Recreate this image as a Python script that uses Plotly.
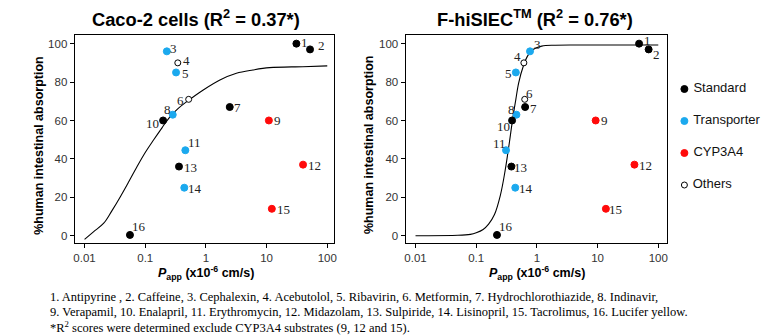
import math
import plotly.graph_objects as go

# ---------------- data ----------------
compound_ids = ["1", "2", "3", "4", "5", "6", "7", "8", "9", "10", "11", "12", "13", "14", "15", "16"]
groups = ["Standard", "Standard", "Transporter", "Others", "Transporter", "Others", "Standard",
          "Transporter", "CYP3A4", "Standard", "Transporter", "CYP3A4", "Standard", "Transporter",
          "CYP3A4", "Standard"]
hia = [100, 97, 96, 90, 85, 71, 67, 63, 60, 60, 44.5, 37, 36, 25, 14, 0.4]
caco_papp = [31, 52, 0.227, 0.344, 0.322, 0.52, 2.47, 0.284, 10.9, 0.197, 0.458, 39.9, 0.36, 0.44, 12.2, 0.056]
hisiec_papp = [48.3, 69.4, 0.77, 0.61, 0.45, 0.63, 0.64, 0.46, 9.3, 0.39, 0.31, 40.5, 0.38, 0.44, 13.7, 0.22]

caco_curve_x = [0.01, 0.014, 0.0207, 0.028, 0.0389, 0.054, 0.0731, 0.1, 0.137, 0.19, 0.257, 0.35, 0.483,
                0.904, 1.70, 3.18, 5.96, 11.2, 39.4, 100]
caco_curve_y = [-1.9, 2.0, 6.5, 12.8, 20.3, 28.3, 35.9, 43.3, 49.8, 56.3, 62.0, 66.3, 69.8,
                75.9, 81.1, 84.6, 86.3, 87.5, 88.0, 88.4]
hisiec_curve_x = [0.01, 0.05, 0.08, 0.1, 0.13, 0.16, 0.2, 0.25, 0.3, 0.35, 0.4, 0.45, 0.5, 0.6, 0.7, 0.85, 1.2, 2, 5, 100]
hisiec_curve_y = [0, 0.2, 0.7, 1.5, 3.2, 6, 11, 21, 34, 48, 61, 71, 79.5, 88.5, 93.5, 96.8, 98.7, 99.2, 99.3, 99.3]

legend_labels = ["Standard", "Transporter", "CYP3A4", "Others"]
x_tick_vals = [0.01, 0.1, 1, 10, 100]
x_tick_text = ["0.01", "0.1", "1", "10", "100"]
y_tick_vals = [0, 20, 40, 60, 80, 100]

caption_lines = [
    "1. Antipyrine , 2. Caffeine, 3. Cephalexin, 4. Acebutolol, 5. Ribavirin, 6. Metformin, 7. Hydrochlorothiazide, 8. Indinavir,",
    "9. Verapamil, 10. Enalapril, 11. Erythromycin, 12. Midazolam, 13. Sulpiride, 14. Lisinopril, 15. Tacrolimus, 16. Lucifer yellow.",
    "*R<sup>2</sup> scores were determined exclude CYP3A4 substrates (9, 12 and 15).",
]

# ---------------- styles ----------------
W, H = 763, 335
fill_colors = {"Standard": "#000000", "Transporter": "#1BA9EE", "CYP3A4": "#FF0A0A", "Others": "#FFFFFF"}
line_colors = {"Standard": "#000000", "Transporter": "#1BA9EE", "CYP3A4": "#FF0A0A", "Others": "#000000"}
marker_size = {"Standard": 7, "Transporter": 7, "CYP3A4": 7, "Others": 6}

# label offsets (px) relative to point: (dx right, dy up)
caco_label_off = [(8, 1), (11, 4), (7, 3), (9, 2), (9, -1), (-8, -1), (8, 0), (-5, 5), (9, 0), (-11, -3),
                  (9, 8), (11, -1), (12, -1), (11, -1), (12, -1), (9, 8)]
hisiec_label_off = [(8, 3), (8, -5), (7, 7), (-6, 6), (-7, -1), (5, 6), (8, -1), (-5, 5), (9, 0), (-9, -6),
                    (-7, 7), (11, -1), (9, -1), (11, -1), (10, -1), (9, 8)]


def px_x(p):
    return p / W


def px_y(p):
    return 1 - p / H


fig = go.Figure()

panels = [
    ("x", "y", caco_papp, caco_curve_x, caco_curve_y, caco_label_off),
    ("x2", "y2", hisiec_papp, hisiec_curve_x, hisiec_curve_y, hisiec_label_off),
]

annotations = []
for xa, ya, papp, cx, cy, offs in panels:
    fig.add_trace(go.Scatter(x=cx, y=cy, mode="lines", line=dict(color="black", width=1.1, shape="spline", smoothing=1.0),
                             xaxis=xa, yaxis=ya, showlegend=False, hoverinfo="skip"))
    fig.add_trace(go.Scatter(
        x=papp, y=hia, mode="markers", xaxis=xa, yaxis=ya, showlegend=False,
        marker=dict(size=[marker_size[g] for g in groups], color=[fill_colors[g] for g in groups], opacity=1,
                    line=dict(color=[line_colors[g] for g in groups], width=1)),
        cliponaxis=False))
    for cid, px, py, (dx, dy) in zip(compound_ids, papp, hia, offs):
        annotations.append(dict(x=math.log10(px), y=py, xref=xa, yref=ya, text=cid, showarrow=False,
                                xanchor="center", yanchor="middle", xshift=dx, yshift=dy,
                                font=dict(family="Liberation Serif", size=13, color="#222222")))

# legend drawn on a hidden categorical axis
fig.add_trace(go.Scatter(
    x=[0] * len(legend_labels), y=legend_labels, mode="markers+text", xaxis="x3", yaxis="y3",
    text=[" " + s for s in legend_labels], textposition="middle right",
    textfont=dict(family="Liberation Sans", size=13, color="#111111"),
    marker=dict(size=[marker_size[g] for g in legend_labels], color=[fill_colors[g] for g in legend_labels],
                opacity=1, line=dict(color=[line_colors[g] for g in legend_labels], width=1)),
    showlegend=False, cliponaxis=False, hoverinfo="skip"))

axis_common = dict(showline=True, linecolor="black", linewidth=1, mirror=True, ticks="outside",
                   ticklen=4, tickcolor="black", showgrid=False, zeroline=False,
                   tickfont=dict(family="Liberation Sans", size=11.5, color="#333333"))

fig.update_layout(
    width=W, height=H, margin=dict(l=0, r=0, t=0, b=0), plot_bgcolor="white", paper_bgcolor="white",
    xaxis=dict(axis_common, type="log", domain=[px_x(74), px_x(335)], range=[-2.164, 2.115],
               tickvals=x_tick_vals, ticktext=x_tick_text, anchor="y"),
    yaxis=dict(axis_common, domain=[px_y(243), px_y(35)], range=[-3.8, 104.5], tickvals=y_tick_vals, anchor="x"),
    xaxis2=dict(axis_common, type="log", domain=[px_x(406.7), px_x(670)], range=[-2.164, 2.152],
                tickvals=x_tick_vals, ticktext=x_tick_text, anchor="y2"),
    yaxis2=dict(axis_common, domain=[px_y(243), px_y(35)], range=[-3.8, 104.5], tickvals=y_tick_vals, anchor="x2"),
    xaxis3=dict(domain=[px_x(677), px_x(697)], range=[-1, 1], visible=False, anchor="y3"),
    yaxis3=dict(domain=[px_y(201), px_y(73)], type="category", categoryarray=legend_labels,
                range=[3.5, -0.5], visible=False, anchor="x3"),
)

title_font = dict(family="Liberation Sans", size=18.3, color="black")
axis_title_font = dict(family="Liberation Sans", size=12.5, color="black")
annotations += [
    dict(x=px_x(196), y=px_y(18), xref="paper", yref="paper", text="<b>Caco-2 cells (R<sup>2</sup> = 0.37*)</b>",
         showarrow=False, xanchor="center", yanchor="middle", font=title_font),
    dict(x=px_x(537), y=px_y(18), xref="paper", yref="paper", text="<b>F-hiSIEC<sup>TM</sup> (R<sup>2</sup> = 0.76*)</b>",
         showarrow=False, xanchor="center", yanchor="middle", font=title_font),
    dict(x=px_x(38), y=px_y(145), xref="paper", yref="paper", text="<b>%human intestinal absorption</b>",
         textangle=-90, showarrow=False, xanchor="center", yanchor="middle", font=axis_title_font),
    dict(x=px_x(370), y=px_y(145), xref="paper", yref="paper", text="<b>%human intestinal absorption</b>",
         textangle=-90, showarrow=False, xanchor="center", yanchor="middle", font=axis_title_font),
    dict(x=px_x(206), y=px_y(273), xref="paper", yref="paper",
         text="<b><i>P</i><sub>app</sub> (x10<sup>-6</sup> cm/s)</b>",
         showarrow=False, xanchor="center", yanchor="middle", font=axis_title_font),
    dict(x=px_x(539), y=px_y(273), xref="paper", yref="paper",
         text="<b><i>P</i><sub>app</sub> (x10<sup>-6</sup> cm/s)</b>",
         showarrow=False, xanchor="center", yanchor="middle", font=axis_title_font),
]
caption_y = [297, 312, 326.5]
for line, yy in zip(caption_lines, caption_y):
    annotations.append(dict(x=px_x(47), y=px_y(yy), xref="paper", yref="paper", text=line, showarrow=False,
                            xanchor="left", yanchor="middle",
                            font=dict(family="Liberation Serif", size=12.5, color="black")))

fig.update_layout(annotations=annotations)
fig.write_html("out.html", config={"displayModeBar": False},
               post_script="document.body.style.margin='0px';document.body.style.overflow='hidden';")
